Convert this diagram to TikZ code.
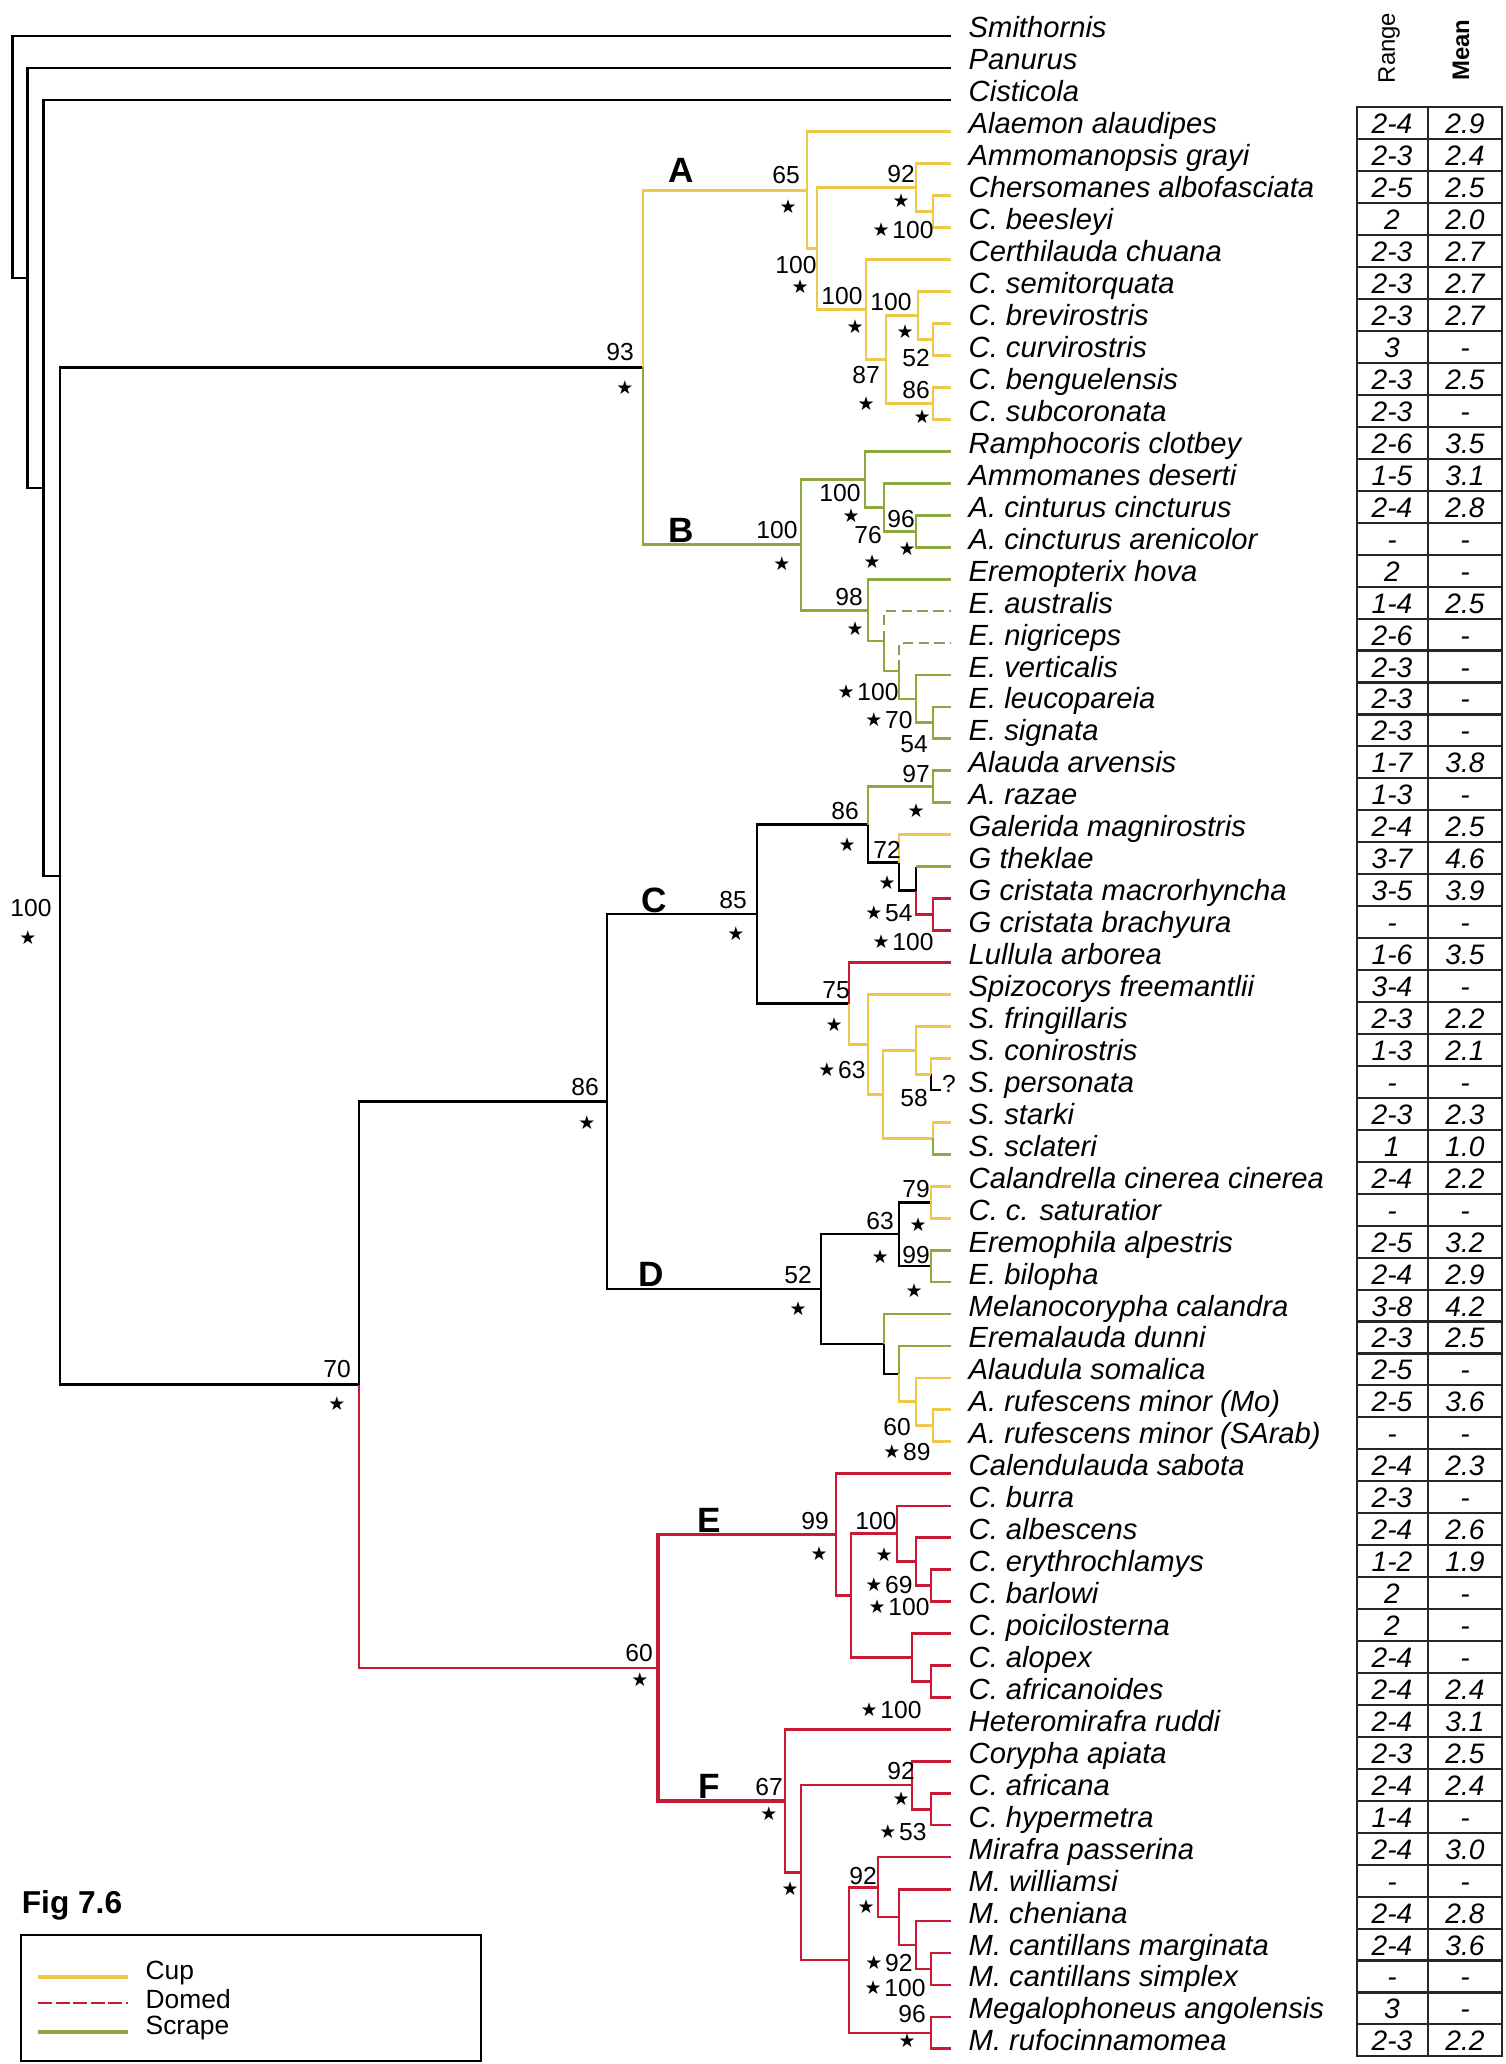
\documentclass[tikz,border=0pt]{standalone}
\usepackage{fontspec}
\setmainfont{Liberation Sans}
\newfontfamily\djv{DejaVu Sans}
\definecolor{yel}{RGB}{238,200,72}
\definecolor{grn}{RGB}{140,170,60}
\definecolor{rd}{RGB}{200,25,55}
\newcommand{\st}{\raisebox{0.6pt}{\djv\fontsize{5.4}{6}\selectfont ★}}
\newcommand{\sn}[1]{\st\kern0.8pt#1}
\begin{document}
\begin{tikzpicture}[x=0.01cm,y=-0.01cm,
  blk/.style={line width=0.75pt,draw=black},
  ylw/.style={line width=0.8pt,draw=yel},
  grl/.style={line width=0.8pt,draw=grn},
  grd/.style={line width=0.45pt,draw=grn!70!gray,dash pattern=on 3pt off 1.5pt},
  rdl/.style={line width=0.8pt,draw=rd},
  rdk/.style={line width=0.95pt,draw=rd},
  rdt/.style={line width=0.45pt,draw=rd},
  tbl/.style={line width=0.6pt,draw=black!85},
  leaf/.style={anchor=base west,inner sep=0pt,font=\fontsize{8.3}{10}\selectfont\itshape},
  cell/.style={anchor=base,inner sep=0pt,font=\fontsize{8}{10}\selectfont\itshape},
  supv/.style={inner sep=0pt,font=\fontsize{7}{8}\selectfont},
  clade/.style={inner sep=0pt,font=\fontsize{10}{12}\selectfont\bfseries},
  hdr/.style={inner sep=0pt,rotate=90,font=\fontsize{6.8}{8}\selectfont},
  legt/.style={anchor=west,inner sep=0pt,font=\fontsize{7.5}{9}\selectfont},
]
\useasboundingbox (0,0) rectangle (1505,2064);
\fill[white] (0,0) rectangle (1505,2064);

% leaf tips
\foreach \i in {0,...,63} \coordinate (l\i) at (951,{36+31.95*\i});

% leaf labels
\foreach \i/\t in {0/Smithornis,1/Panurus,2/Cisticola,3/Alaemon alaudipes,4/Ammomanopsis grayi,
 5/Chersomanes albofasciata,6/C. beesleyi,7/Certhilauda chuana,8/C. semitorquata,9/C. brevirostris,
 10/C. curvirostris,11/C. benguelensis,12/C. subcoronata,13/Ramphocoris clotbey,14/Ammomanes deserti,
 15/A. cinturus cincturus,16/A. cincturus arenicolor,17/Eremopterix hova,18/E. australis,19/E. nigriceps,
 20/E. verticalis,21/E. leucopareia,22/E. signata,23/Alauda arvensis,24/A. razae,25/Galerida magnirostris,
 26/G theklae,27/G cristata macrorhyncha,28/G cristata brachyura,29/Lullula arborea,30/Spizocorys freemantlii,
 31/S. fringillaris,32/S. conirostris,33/S. personata,34/S. starki,35/S. sclateri,36/Calandrella cinerea cinerea,
 37/C. c. saturatior,38/Eremophila alpestris,39/E. bilopha,40/Melanocorypha calandra,41/Eremalauda dunni,
 42/Alaudula somalica,43/A. rufescens minor (Mo),44/A. rufescens minor (SArab),45/Calendulauda sabota,
 46/C. burra,47/C. albescens,48/C. erythrochlamys,49/C. barlowi,50/C. poicilosterna,51/C. alopex,
 52/C. africanoides,53/Heteromirafra ruddi,54/Corypha apiata,55/C. africana,56/C. hypermetra,
 57/Mirafra passerina,58/M. williamsi,59/M. cheniana,60/M. cantillans marginata,61/M. cantillans simplex,
 62/Megalophoneus angolensis,63/M. rufocinnamomea}
 \node[leaf] (t\i) at (968,{38+31.95*\i}) {\t};

% internal nodes
\coordinate (r0) at (12.5,157);
\coordinate (r1) at (27.7,278);
\coordinate (r2) at (43.3,488);
\coordinate (r3) at (60,876.1);
\coordinate (AB) at (643,367.5);
\coordinate (a807) at (807,190.3);
\coordinate (a817) at (817,248.7);
\coordinate (a92) at (916,187.75);
\coordinate (a933) at (933,211.7);
\coordinate (a866) at (866,309.6);
\coordinate (a886) at (886,359.5);
\coordinate (a918) at (918,315.55);
\coordinate (a933c) at (933,339.5);
\coordinate (a933b) at (933,403.4);
\coordinate (b801) at (801,544.7);
\coordinate (b865) at (865,479.3);
\coordinate (b884) at (884,507.25);
\coordinate (b916) at (916,531.2);
\coordinate (e868) at (868,610.1);
\coordinate (e884) at (884,641.05);
\coordinate (e899) at (899,671);
\coordinate (e916) at (916,698.95);
\coordinate (e933) at (933,722.9);
\coordinate (IG) at (359,1384.7);
\coordinate (CD) at (607,1101.55);
\coordinate (c757) at (757,914.1);
\coordinate (c868) at (868,824.75);
\coordinate (c933a) at (933,786.8);
\coordinate (c899) at (899,862.7);
\coordinate (c916) at (916,890.65);
\coordinate (c933r) at (933,914.6);
\coordinate (c849) at (849,1003.5);
\coordinate (c868b) at (868,1044.4);
\coordinate (c883) at (883,1094.35);
\coordinate (c916b) at (916,1050.4);
\coordinate (c931) at (931,1074.4);
\coordinate (c933s) at (933,1138.3);
\coordinate (lq) at (941,{36+31.95*33});
\coordinate (d821) at (821,1289);
\coordinate (d899) at (899,1234.1);
\coordinate (d931a) at (931,1202.2);
\coordinate (d931b) at (931,1266.1);
\coordinate (d884) at (884,1343.95);
\coordinate (d899e) at (899,1373.9);
\coordinate (d916) at (916,1401.85);
\coordinate (d933) at (933,1425.8);
\coordinate (EF) at (658,1667.8);
\coordinate (f836) at (836,1534.65);
\coordinate (f851) at (851,1595.55);
\coordinate (f897) at (897,1533.65);
\coordinate (f916) at (916,1561.6);
\coordinate (f931) at (931,1585.6);
\coordinate (f912) at (912,1657.45);
\coordinate (f931b) at (931,1681.4);
\coordinate (g785) at (785,1800.95);
\coordinate (g801) at (801,1872.6);
\coordinate (g912) at (912,1785.25);
\coordinate (g931) at (931,1809.2);
\coordinate (g849) at (849,1960);
\coordinate (g878) at (878,1887.1);
\coordinate (g899) at (899,1917.05);
\coordinate (g916) at (916,1945);
\coordinate (g931c) at (931,1968.95);
\coordinate (g931m) at (931,2032.9);

% black backbone
\draw[blk] (r0) |- (l0);
\draw[blk] (r0) |- (r1);
\draw[blk] (r1) |- (l1);
\draw[blk] (r1) |- (r2);
\draw[blk] (r2) |- (l2);
\draw[blk] (r2) |- (r3);
\draw[blk] (r3) |- (AB);
\draw[blk] (r3) |- (IG);
\draw[blk] (IG) |- (CD);
\draw[blk] (CD) |- (c757);
\draw[blk] (CD) |- (d821);
\draw[blk] (c757) |- (c868);
\draw[blk] (c757) |- (c849);
\draw[blk] (c868) |- (c899);
\draw[blk] (c899) |- (c916);
\draw[blk] (c916) -- (c916 |- l26);
\draw[blk] (d821) |- (d899);
\draw[blk] (d821) |- (d884);
\draw[blk] (d899) |- (d931a);
\draw[blk] (d899) |- (d931b);
\draw[blk] (d884) |- (d899e);
\draw[blk,line width=0.6pt] (c931) |- (lq);

% yellow (cup)
\foreach \p/\c in {AB/a807,a807/l3,a807/a817,a817/a92,a817/a866,a92/l4,a92/a933,a933/l5,a933/l6,
  a866/l7,a866/a886,a886/a918,a886/a933b,a918/l8,a918/a933c,a933c/l9,a933c/l10,a933b/l11,a933b/l12,
  c899/l25,c849/c868b,c868b/l30,c868b/c883,c883/c916b,c883/c933s,c916b/l31,c916b/c931,c931/l32,c933s/l34,
  d931a/l36,d931a/l37,d899e/d916,d916/l42,d916/d933,d933/l43,d933/l44}
  \draw[ylw] (\p) |- (\c);

% green (scrape)
\foreach \p/\c in {AB/b801,b801/b865,b801/e868,b865/l13,b865/b884,b884/l14,b884/b916,b916/l15,b916/l16,
  e868/l17,e868/e884,e884/e899,e899/e916,e916/l20,e916/e933,e933/l21,e933/l22,
  c868/c933a,c933a/l23,c933a/l24,c933s/l35,d931b/l38,d931b/l39,d884/l40,d899e/l41}
  \draw[grl] (\p) |- (\c);
\draw[grl] (c916 |- l26) -- (l26);
\draw[grd] (e884) |- (l18);
\draw[grd] (e899) |- (l19);

% red (domed)
\foreach \p/\c in {c916/c933r,c933r/l27,c933r/l28,c849/l29,
  f836/l45,f836/f851,f851/f897,f851/f912,f897/f916,f916/l47,f916/f931,f931/l48,f931/l49,
  f912/l50,f912/f931b,f931b/l51,f931b/l52,
  g785/l53,g785/g801,g801/g849,g912/l54,g912/g931,g931/l55,g849/g878,g849/g931m,
  g878/g899,g899/l58,g899/g916,g916/g931c,g931c/l60,g931c/l61,g931m/l62,g931m/l63}
  \draw[rdl] (\p) |- (\c);
\foreach \p/\c in {f897/l46,g801/g912,g931/l56,g878/l57,g916/l59}
  \draw[rdt] (\p) |- (\c);
\draw[rdt] (IG) |- (EF);
\draw[rdk] (EF) |- (f836);
\draw[rdk] (EF) |- (g785);

\node[supv,anchor=base] (qm) at (949,{38+31.95*33}) {?};

% clade letters
\node[clade] (cA) at (681,170) {A};
\node[clade] (cB) at (681,530) {B};
\node[clade] (cC) at (654,900) {C};
\node[clade] (cD) at (651,1274) {D};
\node[clade] (cE) at (709,1520) {E};
\node[clade] (cF) at (709,1786) {F};

% support values
\foreach \x/\y/\t [count=\k] in {31/908/100,28/939/\st,620/352/93,625/389/\st,585/1087/86,587/1124/\st,
  337/1369/70,337/1405/\st,639/1653/60,640/1681/\st,
  786/175/65,788/208/\st,901/174/92,901/202/\st,903/230/\sn{100},796/265/100,800/288/\st,
  842/296/100,855/328/\st,891/302/100,905/333/\st,916/358/52,866/375/87,866/405/\st,916/390/86,922/418/\st,
  777/530/100,782/565/\st,840/493/100,851/517/\st,868/535/76,872/563/\st,901/519/96,907/550/\st,
  849/597/98,855/630/\st,868/692/\sn{100},889/720/\sn{70},914/744/54,
  733/900/85,736/935/\st,845/811/86,847/846/\st,916/774/97,916/812/\st,887/850/72,887/884/\st,
  889/913/\sn{54},903/942/\sn{100},836/990/75,834/1026/\st,842/1070/\sn{63},914/1098/58,
  798/1275/52,798/1310/\st,880/1221/63,880/1258/\st,916/1189/79,918/1226/\st,916/1255/99,914/1292/\st,
  897/1427/60,907/1452/\sn{89},
  815/1521/99,819/1555/\st,876/1521/100,884/1556/\st,889/1585/\sn{69},899/1607/\sn{100},891/1710/\sn{100},
  769/1787/67,769/1815/\st,790/1890/\st,901/1771/92,901/1800/\st,903/1832/\sn{53},
  863/1876/92,866/1908/\st,889/1963/\sn{92},895/1988/\sn{100},912/2014/96,907/2042/\st}
  \node[supv] (sv\k) at (\x,\y) {\t};

% table
\node[hdr] (hR) at (1389,48) {Range};
\node[hdr,font=\fontsize{6.8}{8}\selectfont\bfseries] (hM) at (1461,50) {Mean};
\draw[tbl] (1357,107.4) rectangle (1502,2056.4);
\draw[tbl] (1428,107.4) -- (1428,2056.4);
\foreach \i in {3,...,62} \draw[tbl] (1357,{43.5+31.95*\i}) -- (1502,{43.5+31.95*\i});
\foreach \i/\r/\m in {3/2-4/2.9,4/2-3/2.4,5/2-5/2.5,6/2/2.0,7/2-3/2.7,8/2-3/2.7,9/2-3/2.7,10/3/-,
  11/2-3/2.5,12/2-3/-,13/2-6/3.5,14/1-5/3.1,15/2-4/2.8,16/-/-,17/2/-,18/1-4/2.5,19/2-6/-,20/2-3/-,
  21/2-3/-,22/2-3/-,23/1-7/3.8,24/1-3/-,25/2-4/2.5,26/3-7/4.6,27/3-5/3.9,28/-/-,29/1-6/3.5,30/3-4/-,
  31/2-3/2.2,32/1-3/2.1,33/-/-,34/2-3/2.3,35/1/1.0,36/2-4/2.2,37/-/-,38/2-5/3.2,39/2-4/2.9,40/3-8/4.2,
  41/2-3/2.5,42/2-5/-,43/2-5/3.6,44/-/-,45/2-4/2.3,46/2-3/-,47/2-4/2.6,48/1-2/1.9,49/2/-,50/2/-,
  51/2-4/-,52/2-4/2.4,53/2-4/3.1,54/2-3/2.5,55/2-4/2.4,56/1-4/-,57/2-4/3.0,58/-/-,59/2-4/2.8,
  60/2-4/3.6,61/-/-,62/3/-,63/2-3/2.2}
{
  \node[cell] (rg\i) at (1392,{38+31.95*\i}) {\r};
  \node[cell] (mn\i) at (1465,{38+31.95*\i}) {\m};
}

% legend
\node[inner sep=0pt,font=\fontsize{9}{11}\selectfont\bfseries] (fig) at (72,1905) {Fig 7.6};
\draw[line width=0.6pt] (21,1935) rectangle (481,2061);
\coordinate (cu1) at (38,1977); \coordinate (cu2) at (128,1977);
\coordinate (do1) at (38,2003); \coordinate (do2) at (128,2003);
\coordinate (sc1) at (38,2032); \coordinate (sc2) at (128,2032);
\draw[line width=1pt,draw=yel] (cu1) -- (cu2);
\draw[line width=0.6pt,draw=rd,dash pattern=on 4pt off 1pt] (do1) -- (do2);
\draw[line width=1pt,draw=grn] (sc1) -- (sc2);
\node[legt] (lc) at (145,1973) {Cup};
\node[legt] (ld) at (145,1999) {Domed};
\node[legt] (ls) at (145,2028) {Scrape};
\end{tikzpicture}
\end{document}
